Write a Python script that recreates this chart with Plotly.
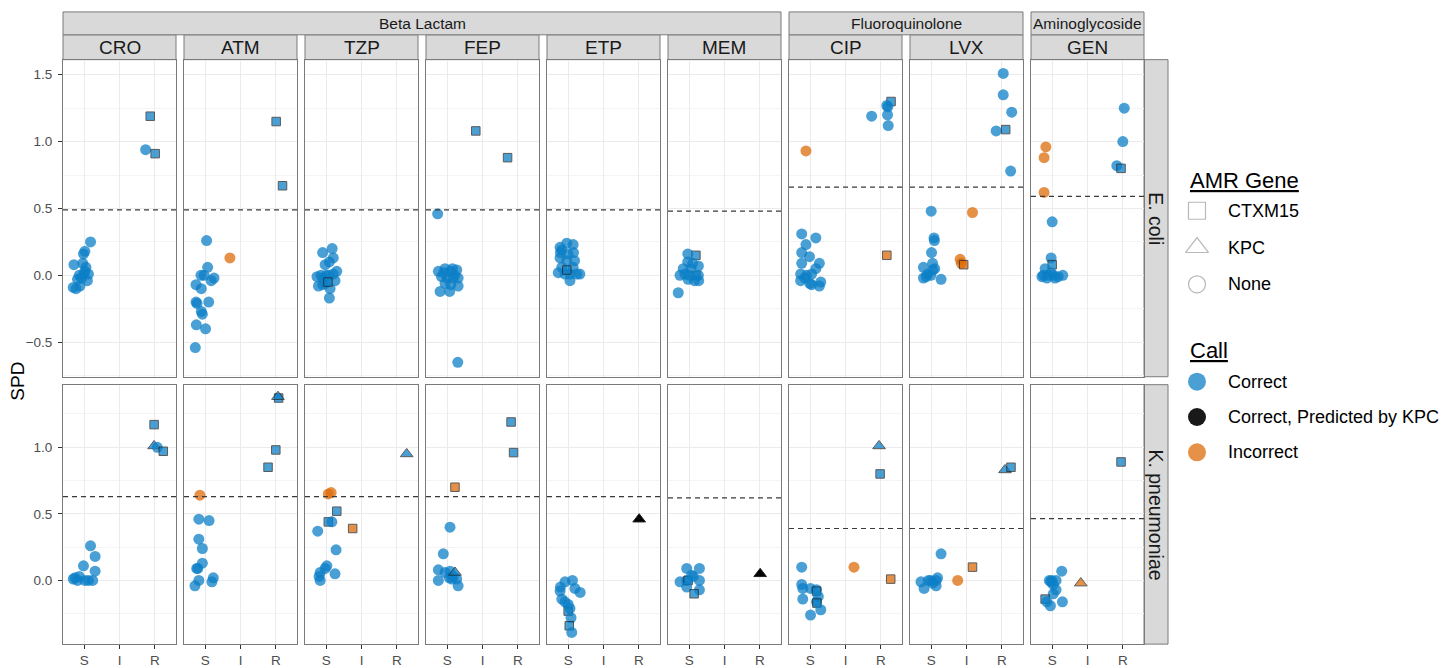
import plotly.graph_objects as go

W, H = 1443, 668
FONT = "Liberation Sans, Arial, Helvetica, sans-serif"

# ---------------- data ----------------
DRUGS = ["CRO", "ATM", "TZP", "FEP", "ETP", "MEM", "CIP", "LVX", "GEN"]
DRUG_CLASS = ["Beta Lactam"] * 6 + ["Fluoroquinolone"] * 2 + ["Aminoglycoside"]
SPECIES = ["E. coli", "K. pneumoniae"]
SIR_LEVELS = ["S", "I", "R"]
Y_TICKS_ECOLI = [-0.5, 0.0, 0.5, 1.0, 1.5]
Y_TICKS_KPN = [0.0, 0.5, 1.0]
THRESH_ECOLI = [0.49, 0.49, 0.49, 0.49, 0.49, 0.48, 0.66, 0.66, 0.59]
THRESH_KPN = [0.63, 0.63, 0.63, 0.63, 0.63, 0.62, 0.39, 0.39, 0.465]
GENES = {"C": "CTXM15", "K": "KPC", "N": "None"}
CALLS = {"ok": "Correct", "kp": "Correct, Predicted by KPC", "no": "Incorrect"}
LEGEND_GENES = ["CTXM15", "KPC", "None"]
LEGEND_CALLS = ["Correct", "Correct, Predicted by KPC", "Incorrect"]

# (SIR phenotype, jitter, SPD, gene, call)
ECOLI_CRO = [("R", -0.13, 1.19, "C", "ok"), ("R", -0.26, 0.94, "N", "ok"), ("R", 0.01, 0.91, "C", "ok"),
             ("S", 0.18, 0.25, "N", "ok"), ("S", 0.02, 0.18, "N", "ok"), ("S", -0.02, 0.16, "N", "ok"),
             ("S", -0.04, 0.09, "N", "ok"), ("S", -0.29, 0.08, "N", "ok"), ("S", 0.05, 0.06, "N", "ok"),
             ("S", -0.14, 0.00, "N", "ok"), ("S", -0.01, 0.01, "N", "ok"), ("S", 0.12, 0.01, "N", "ok"),
             ("S", -0.19, -0.03, "N", "ok"), ("S", -0.23, -0.10, "N", "ok"), ("S", -0.12, -0.08, "N", "ok"),
             ("S", 0.09, -0.04, "N", "ok"), ("S", 0.02, 0.03, "N", "ok"), ("S", -0.07, -0.02, "N", "ok"),
             ("S", -0.31, -0.09, "N", "ok")]
ECOLI_ATM = [("R", 0.01, 1.15, "C", "ok"), ("R", 0.19, 0.67, "C", "ok"), ("I", -0.30, 0.13, "N", "no"),
             ("S", 0.04, 0.26, "N", "ok"), ("S", 0.07, 0.06, "N", "ok"), ("S", -0.12, 0.00, "N", "ok"),
             ("S", -0.03, 0.00, "N", "ok"), ("S", 0.25, -0.02, "N", "ok"), ("S", 0.17, -0.04, "N", "ok"),
             ("S", -0.26, -0.07, "N", "ok"), ("S", -0.11, -0.10, "N", "ok"), ("S", -0.26, -0.20, "N", "ok"),
             ("S", -0.23, -0.21, "N", "ok"), ("S", 0.10, -0.20, "N", "ok"), ("S", -0.11, -0.27, "N", "ok"),
             ("S", -0.08, -0.29, "N", "ok"), ("S", -0.25, -0.37, "N", "ok"), ("S", 0.01, -0.40, "N", "ok"),
             ("S", -0.28, -0.54, "N", "ok")]
ECOLI_TZP = [("S", 0.17, 0.20, "N", "ok"), ("S", -0.10, 0.17, "N", "ok"), ("S", 0.20, 0.13, "N", "ok"),
             ("S", 0.09, 0.10, "N", "ok"), ("S", -0.03, 0.08, "N", "ok"), ("S", 0.30, 0.03, "N", "ok"),
             ("S", -0.15, 0.00, "N", "ok"), ("S", 0.07, 0.00, "N", "ok"), ("S", 0.20, 0.01, "N", "ok"),
             ("S", -0.22, -0.08, "N", "ok"), ("S", -0.03, -0.06, "N", "ok"), ("S", 0.25, -0.04, "N", "ok"),
             ("S", 0.11, -0.10, "N", "ok"), ("S", 0.09, -0.17, "N", "ok"), ("S", -0.08, -0.02, "N", "ok"),
             ("S", -0.26, -0.01, "N", "ok"), ("S", 0.00, 0.00, "N", "ok"), ("S", -0.10, -0.07, "N", "ok"),
             ("S", 0.05, -0.05, "C", "ok")]
ECOLI_FEP = [("I", -0.19, 1.08, "C", "ok"), ("R", -0.29, 0.88, "C", "ok"), ("S", -0.27, 0.46, "N", "ok"),
             ("S", 0.30, -0.65, "N", "ok"), ("S", -0.25, 0.03, "N", "ok"), ("S", -0.06, 0.05, "N", "ok"),
             ("S", 0.08, 0.03, "N", "ok"), ("S", 0.27, 0.04, "N", "ok"), ("S", -0.16, -0.01, "N", "ok"),
             ("S", 0.00, -0.02, "N", "ok"), ("S", 0.17, -0.02, "N", "ok"), ("S", 0.31, -0.02, "N", "ok"),
             ("S", -0.06, -0.06, "N", "ok"), ("S", 0.10, -0.07, "N", "ok"), ("S", 0.31, -0.08, "N", "ok"),
             ("S", -0.20, -0.12, "N", "ok"), ("S", 0.07, -0.12, "N", "ok"), ("S", 0.21, 0.00, "N", "ok"),
             ("S", 0.15, 0.05, "N", "ok"), ("S", -0.10, 0.02, "N", "ok")]
ECOLI_ETP = [("S", -0.23, 0.21, "N", "ok"), ("S", 0.14, 0.23, "N", "ok"), ("S", -0.04, 0.24, "N", "ok"),
             ("S", -0.18, 0.19, "N", "ok"), ("S", -0.23, 0.13, "N", "ok"), ("S", -0.04, 0.11, "N", "ok"),
             ("S", 0.18, 0.11, "N", "ok"), ("S", -0.18, 0.06, "N", "ok"), ("S", 0.14, 0.06, "N", "ok"),
             ("S", -0.28, 0.02, "N", "ok"), ("S", -0.09, 0.01, "N", "ok"), ("S", 0.05, 0.01, "N", "ok"),
             ("S", 0.24, 0.01, "N", "ok"), ("S", 0.33, 0.01, "N", "ok"), ("S", 0.05, -0.04, "N", "ok"),
             ("S", 0.00, 0.16, "N", "ok"), ("S", -0.22, 0.17, "N", "ok"), ("S", 0.15, 0.17, "N", "ok"),
             ("S", -0.04, 0.04, "C", "ok")]
ECOLI_MEM = [("S", 0.19, 0.15, "C", "ok"), ("S", 0.19, 0.00, "C", "ok"), ("S", -0.04, 0.16, "N", "ok"),
             ("S", -0.04, 0.10, "N", "ok"), ("S", 0.10, 0.09, "N", "ok"), ("S", -0.17, 0.05, "N", "ok"),
             ("S", 0.05, 0.05, "N", "ok"), ("S", 0.26, 0.07, "N", "ok"), ("S", -0.26, 0.00, "N", "ok"),
             ("S", -0.12, 0.01, "N", "ok"), ("S", 0.00, 0.00, "N", "ok"), ("S", 0.26, 0.00, "N", "ok"),
             ("S", -0.03, -0.03, "N", "ok"), ("S", 0.15, -0.04, "N", "ok"), ("S", 0.27, -0.04, "N", "ok"),
             ("S", -0.31, -0.13, "N", "ok")]
ECOLI_CIP = [("R", 0.29, 1.30, "C", "ok"), ("R", 0.17, 1.27, "N", "ok"), ("R", 0.20, 1.26, "N", "ok"),
             ("R", -0.26, 1.19, "N", "ok"), ("R", 0.19, 1.20, "N", "ok"), ("R", 0.21, 1.12, "N", "ok"),
             ("S", -0.12, 0.93, "N", "no"), ("R", 0.17, 0.15, "C", "no"),
             ("S", -0.24, 0.31, "N", "ok"), ("S", 0.16, 0.28, "N", "ok"), ("S", -0.12, 0.23, "N", "ok"),
             ("S", -0.24, 0.17, "N", "ok"), ("S", -0.02, 0.14, "N", "ok"), ("S", -0.24, 0.09, "N", "ok"),
             ("S", 0.26, 0.09, "N", "ok"), ("S", 0.16, 0.05, "N", "ok"), ("S", -0.27, 0.01, "N", "ok"),
             ("S", -0.10, 0.00, "N", "ok"), ("S", 0.04, 0.01, "N", "ok"), ("S", -0.27, -0.04, "N", "ok"),
             ("S", -0.01, -0.06, "N", "ok"), ("S", 0.30, -0.05, "N", "ok"), ("S", 0.26, -0.08, "N", "ok"),
             ("S", 0.04, -0.07, "N", "ok"), ("S", -0.15, -0.02, "N", "ok")]
ECOLI_LVX = [("R", 0.04, 1.51, "N", "ok"), ("R", 0.04, 1.35, "N", "ok"), ("R", 0.28, 1.22, "N", "ok"),
             ("R", -0.16, 1.08, "N", "ok"), ("R", 0.11, 1.09, "C", "ok"), ("R", 0.25, 0.78, "N", "ok"),
             ("I", 0.17, 0.47, "N", "no"), ("I", -0.18, 0.12, "N", "no"), ("I", -0.15, 0.09, "N", "no"),
             ("I", -0.08, 0.08, "C", "no"),
             ("S", 0.00, 0.48, "N", "ok"), ("S", 0.08, 0.28, "N", "ok"), ("S", 0.09, 0.26, "N", "ok"),
             ("S", 0.01, 0.17, "N", "ok"), ("S", 0.04, 0.09, "N", "ok"), ("S", -0.22, 0.06, "N", "ok"),
             ("S", 0.05, 0.04, "N", "ok"), ("S", -0.10, 0.01, "N", "ok"), ("S", -0.22, -0.02, "N", "ok"),
             ("S", -0.01, 0.00, "N", "ok"), ("S", 0.28, -0.03, "N", "ok"), ("S", -0.14, -0.01, "N", "ok"),
             ("S", 0.10, 0.05, "N", "ok")]
ECOLI_GEN = [("R", 0.04, 1.25, "N", "ok"), ("R", 0.00, 1.00, "N", "ok"), ("R", -0.17, 0.82, "N", "ok"),
             ("R", -0.05, 0.80, "C", "ok"),
             ("S", -0.18, 0.96, "N", "no"), ("S", -0.23, 0.88, "N", "no"), ("S", -0.23, 0.62, "N", "no"),
             ("S", 0.00, 0.40, "N", "ok"), ("S", -0.03, 0.13, "N", "ok"), ("S", 0.00, 0.08, "C", "ok"),
             ("S", -0.20, 0.05, "N", "ok"), ("S", -0.25, 0.00, "N", "ok"), ("S", -0.11, 0.00, "N", "ok"),
             ("S", 0.03, 0.00, "N", "ok"), ("S", 0.17, -0.01, "N", "ok"), ("S", 0.30, 0.00, "N", "ok"),
             ("S", -0.15, -0.02, "N", "ok"), ("S", 0.08, -0.02, "N", "ok"), ("S", -0.29, -0.01, "N", "ok"),
             ("S", -0.03, 0.02, "N", "ok")]

KPN_CRO = [("R", -0.02, 1.17, "C", "ok"), ("R", -0.02, 1.01, "K", "ok"), ("R", 0.07, 1.00, "N", "ok"),
           ("R", 0.24, 0.97, "C", "ok"),
           ("S", 0.18, 0.26, "N", "ok"), ("S", 0.31, 0.18, "N", "ok"), ("S", -0.02, 0.11, "N", "ok"),
           ("S", 0.31, 0.07, "N", "ok"), ("S", -0.26, 0.02, "N", "ok"), ("S", -0.14, 0.03, "N", "ok"),
           ("S", -0.19, 0.00, "N", "ok"), ("S", 0.02, 0.00, "N", "ok"), ("S", 0.12, 0.00, "N", "ok"),
           ("S", 0.24, 0.00, "N", "ok"), ("S", -0.31, 0.01, "N", "ok")]
KPN_ATM = [("R", 0.08, 1.37, "C", "ok"), ("R", 0.06, 1.38, "K", "ok"), ("R", 0.00, 0.98, "C", "ok"),
           ("R", -0.22, 0.85, "C", "ok"), ("S", -0.15, 0.64, "N", "no"),
           ("S", -0.18, 0.46, "N", "ok"), ("S", 0.11, 0.45, "N", "ok"), ("S", -0.18, 0.31, "N", "ok"),
           ("S", -0.08, 0.24, "N", "ok"), ("S", -0.08, 0.13, "N", "ok"), ("S", -0.21, 0.09, "N", "ok"),
           ("S", -0.24, 0.09, "N", "ok"), ("S", -0.18, 0.00, "N", "ok"), ("S", 0.23, 0.02, "N", "ok"),
           ("S", 0.19, -0.01, "N", "ok"), ("S", -0.29, -0.04, "N", "ok")]
KPN_TZP = [("R", 0.28, 0.95, "K", "ok"), ("S", 0.06, 0.65, "N", "no"), ("S", 0.14, 0.66, "N", "no"),
           ("I", -0.25, 0.39, "C", "no"), ("S", 0.30, 0.52, "C", "ok"), ("S", 0.06, 0.44, "C", "ok"),
           ("S", 0.16, 0.44, "N", "ok"),
           ("S", -0.24, 0.37, "N", "ok"), ("S", 0.28, 0.23, "N", "ok"), ("S", 0.02, 0.11, "N", "ok"),
           ("S", -0.03, 0.09, "N", "ok"), ("S", -0.17, 0.06, "N", "ok"), ("S", -0.20, 0.03, "N", "ok"),
           ("S", -0.17, 0.00, "N", "ok"), ("S", 0.25, 0.05, "N", "ok")]
KPN_FEP = [("R", -0.19, 1.19, "C", "ok"), ("R", -0.12, 0.96, "C", "ok"), ("S", 0.22, 0.70, "C", "no"),
           ("S", 0.08, 0.40, "N", "ok"), ("S", -0.11, 0.20, "N", "ok"), ("S", -0.25, 0.08, "N", "ok"),
           ("S", -0.06, 0.06, "N", "ok"), ("S", 0.08, 0.07, "N", "ok"), ("S", -0.25, 0.00, "N", "ok"),
           ("S", 0.13, 0.01, "N", "ok"), ("S", 0.27, 0.01, "N", "ok"), ("S", 0.06, 0.02, "N", "ok"),
           ("S", 0.31, -0.04, "N", "ok"), ("S", 0.17, 0.03, "N", "ok"), ("S", 0.22, 0.06, "K", "ok")]
KPN_ETP = [("R", 0.01, 0.46, "K", "kp"),
           ("S", -0.09, -0.01, "N", "ok"), ("S", 0.12, 0.00, "N", "ok"), ("S", -0.23, -0.08, "N", "ok"),
           ("S", 0.19, -0.06, "N", "ok"), ("S", 0.34, -0.09, "N", "ok"), ("S", -0.18, -0.14, "N", "ok"),
           ("S", -0.09, -0.16, "N", "ok"), ("S", 0.00, -0.23, "C", "ok"), ("S", 0.08, -0.28, "N", "ok"),
           ("S", 0.03, -0.34, "C", "ok"), ("S", 0.10, -0.39, "N", "ok"), ("S", 0.00, -0.18, "N", "ok"),
           ("S", 0.05, -0.21, "N", "ok"), ("S", -0.22, -0.05, "N", "ok")]
KPN_MEM = [("R", 0.01, 0.05, "K", "kp"),
           ("S", -0.07, 0.09, "N", "ok"), ("S", 0.29, 0.09, "N", "ok"), ("S", -0.26, -0.01, "N", "ok"),
           ("S", -0.07, 0.00, "N", "ok"), ("S", -0.03, 0.00, "C", "ok"), ("S", 0.12, 0.03, "N", "ok"),
           ("S", 0.29, 0.00, "N", "ok"), ("S", -0.07, -0.05, "N", "ok"), ("S", 0.29, -0.07, "N", "ok"),
           ("S", 0.14, -0.10, "C", "ok"), ("S", 0.07, 0.04, "N", "ok")]
KPN_CIP = [("R", -0.05, 1.01, "K", "ok"), ("R", -0.02, 0.80, "C", "ok"), ("I", 0.24, 0.10, "N", "no"),
           ("R", 0.28, 0.01, "C", "no"),
           ("S", -0.24, 0.10, "N", "ok"), ("S", -0.24, -0.03, "N", "ok"), ("S", -0.21, -0.06, "N", "ok"),
           ("S", 0.01, -0.06, "N", "ok"), ("S", 0.18, -0.07, "N", "ok"), ("S", 0.18, -0.08, "C", "ok"),
           ("S", 0.23, -0.12, "N", "ok"), ("S", -0.21, -0.14, "N", "ok"), ("S", 0.18, -0.16, "N", "ok"),
           ("S", 0.19, -0.17, "C", "ok"), ("S", 0.30, -0.22, "N", "ok"), ("S", 0.01, -0.26, "N", "ok")]
KPN_LVX = [("R", 0.09, 0.83, "K", "ok"), ("R", 0.26, 0.85, "C", "ok"), ("I", -0.25, 0.00, "N", "no"),
           ("I", 0.17, 0.10, "C", "no"),
           ("S", 0.28, 0.20, "N", "ok"), ("S", -0.29, -0.01, "N", "ok"), ("S", -0.20, -0.06, "N", "ok"),
           ("S", -0.08, 0.00, "N", "ok"), ("S", -0.01, 0.00, "N", "ok"), ("S", 0.14, 0.00, "N", "ok"),
           ("S", 0.18, 0.02, "N", "ok"), ("S", 0.14, -0.04, "N", "ok"), ("S", 0.04, -0.02, "N", "ok")]
KPN_GEN = [("R", -0.05, 0.89, "C", "ok"), ("I", -0.19, -0.02, "K", "no"),
           ("S", 0.27, 0.07, "N", "ok"), ("S", -0.08, 0.00, "N", "ok"), ("S", -0.01, 0.00, "N", "ok"),
           ("S", 0.11, 0.00, "N", "ok"), ("S", 0.03, -0.03, "N", "ok"), ("S", 0.11, -0.07, "N", "ok"),
           ("S", 0.03, -0.10, "N", "ok"), ("S", -0.20, -0.14, "C", "ok"), ("S", -0.15, -0.16, "N", "ok"),
           ("S", -0.05, -0.19, "N", "ok"), ("S", 0.29, -0.16, "N", "ok"), ("S", -0.04, -0.01, "N", "ok")]

PANELS = [
    [ECOLI_CRO, ECOLI_ATM, ECOLI_TZP, ECOLI_FEP, ECOLI_ETP, ECOLI_MEM, ECOLI_CIP, ECOLI_LVX, ECOLI_GEN],
    [KPN_CRO, KPN_ATM, KPN_TZP, KPN_FEP, KPN_ETP, KPN_MEM, KPN_CIP, KPN_LVX, KPN_GEN],
]
THRESHOLDS = [THRESH_ECOLI, THRESH_KPN]
ROW_TICKS = [Y_TICKS_ECOLI, Y_TICKS_KPN]

# ---------------- styles ----------------
CALL_COLOR = {"Correct": "#0B7FC7", "Correct, Predicted by KPC": "#000000", "Incorrect": "#DD6A08"}
CALL_ALPHA = {"Correct": 0.74, "Correct, Predicted by KPC": 1.0, "Incorrect": 0.74}
GENE_SYMBOL = {"CTXM15": "square", "KPC": "triangle-up", "None": "circle"}
GENE_SIZE = {"CTXM15": 8.5, "KPC": 11, "None": 11}
GENE_LINE = {"CTXM15": 1.0, "KPC": 1.0, "None": 0}

# pixel layout
COL_X0, COL_STEP, COL_W = 63, 121, 113
ROW_Y = [(60, 379), (387, 648)]
ROW_RANGE = [(-0.758, 1.613), (-0.478, 1.470)]
X_RANGE = (0.4, 3.6)
BORDER = "#7a7a7a"
STRIP_FILL = "#D9D9D9"

def px_x(p):
    return p / W

def px_y(p):
    return 1 - p / H

def fmt(v):
    return f"{v:.1f}".replace("-", "\u2212")

fig = go.Figure()
layout = dict(
    width=W, height=H, margin=dict(l=0, r=0, t=0, b=0),
    paper_bgcolor="white", plot_bgcolor="white",
    font=dict(family=FONT, color="#000000"),
    showlegend=False,
)
shapes, annotations = [], []
sir_pos = {s: i + 1 for i, s in enumerate(SIR_LEVELS)}

for r, species in enumerate(SPECIES):
    y0p, y1p = ROW_Y[r]
    ticks = ROW_TICKS[r]
    step = ticks[1] - ticks[0]
    minors = [t - step / 2 for t in ticks] + [ticks[-1] + step / 2]
    minors = [m for m in minors if ROW_RANGE[r][0] < m < ROW_RANGE[r][1]]
    for c, drug in enumerate(DRUGS):
        n = r * len(DRUGS) + c + 1
        sx = "" if n == 1 else str(n)
        x0p = COL_X0 + COL_STEP * c
        x1p = x0p + COL_W
        layout["xaxis" + sx] = dict(
            domain=[px_x(x0p), px_x(x1p)], range=list(X_RANGE), anchor="y" + sx,
            tickmode="array", tickvals=[1, 2, 3], ticktext=SIR_LEVELS,
            showticklabels=(r == 1), ticks="outside" if r == 1 else "", ticklen=4,
            tickcolor="#333333", tickfont=dict(size=13.5, color="#4D4D4D", family=FONT),
            showgrid=True, gridcolor="#EBEBEB", gridwidth=1, zeroline=False,
            showline=True, mirror=True, linecolor=BORDER, linewidth=1, fixedrange=True,
        )
        layout["yaxis" + sx] = dict(
            domain=[px_y(y1p), px_y(y0p)], range=list(ROW_RANGE[r]), anchor="x" + sx,
            tickmode="array", tickvals=ticks, ticktext=[fmt(t) for t in ticks],
            showticklabels=(c == 0), ticks="outside" if c == 0 else "", ticklen=4,
            tickcolor="#333333", tickfont=dict(size=13.5, color="#4D4D4D", family=FONT),
            ticklabelstandoff=3,
            showgrid=True, gridcolor="#EBEBEB", gridwidth=1, zeroline=False,
            minor=dict(tickvals=minors, showgrid=True, gridcolor="#F4F4F4", gridwidth=0.6, ticks=""),
            showline=True, mirror=True, linecolor=BORDER, linewidth=1, fixedrange=True,
        )
        pts = PANELS[r][c]
        genes = [GENES[p[3]] for p in pts]
        calls = [CALLS[p[4]] for p in pts]
        fig.add_trace(go.Scatter(
            x=[sir_pos[p[0]] + p[1] for p in pts],
            y=[p[2] for p in pts],
            xaxis="x" + sx, yaxis="y" + sx, mode="markers", hoverinfo="skip",
            marker=dict(
                symbol=[GENE_SYMBOL[g] for g in genes],
                size=[GENE_SIZE[g] for g in genes],
                color=[CALL_COLOR[k] for k in calls],
                opacity=[CALL_ALPHA[k] for k in calls],
                line=dict(color="#222222", width=[GENE_LINE[g] for g in genes]),
            ),
        ))
        shapes.append(dict(
            type="line", xref=("x" + sx + " domain"), yref="y" + sx, x0=0, x1=1,
            y0=THRESHOLDS[r][c], y1=THRESHOLDS[r][c],
            line=dict(color="#3a3a3a", width=1.2, dash="5px,4px"),
        ))

# ---------------- strips ----------------
STRIP1 = (12, 35)
STRIP2 = (35, 60)
for c, drug in enumerate(DRUGS):
    x0p = COL_X0 + COL_STEP * c
    x1p = x0p + COL_W
    shapes.append(dict(type="rect", xref="paper", yref="paper", x0=px_x(x0p), x1=px_x(x1p),
                       y0=px_y(STRIP2[1]), y1=px_y(STRIP2[0]), fillcolor=STRIP_FILL,
                       line=dict(color=BORDER, width=1), layer="below"))
    annotations.append(dict(text=drug, xref="paper", yref="paper", x=px_x((x0p + x1p) / 2),
                            y=px_y((STRIP2[0] + STRIP2[1]) / 2), showarrow=False,
                            xanchor="center", yanchor="middle",
                            font=dict(size=19, color="#1A1A1A", family=FONT)))
groups = []
for c, cl in enumerate(DRUG_CLASS):
    if groups and groups[-1][0] == cl:
        groups[-1][2] = c
    else:
        groups.append([cl, c, c])
for cl, c0, c1 in groups:
    x0p = COL_X0 + COL_STEP * c0
    x1p = COL_X0 + COL_STEP * c1 + COL_W
    shapes.append(dict(type="rect", xref="paper", yref="paper", x0=px_x(x0p), x1=px_x(x1p),
                       y0=px_y(STRIP1[1]), y1=px_y(STRIP1[0]), fillcolor=STRIP_FILL,
                       line=dict(color=BORDER, width=1), layer="below"))
    annotations.append(dict(text=cl, xref="paper", yref="paper", x=px_x((x0p + x1p) / 2),
                            y=px_y((STRIP1[0] + STRIP1[1]) / 2), showarrow=False,
                            xanchor="center", yanchor="middle",
                            font=dict(size=15.5, color="#1A1A1A", family=FONT)))
SX0 = COL_X0 + COL_STEP * (len(DRUGS) - 1) + COL_W
SX1 = SX0 + 24
for r, species in enumerate(SPECIES):
    y0p, y1p = ROW_Y[r]
    shapes.append(dict(type="rect", xref="paper", yref="paper", x0=px_x(SX0), x1=px_x(SX1),
                       y0=px_y(y1p), y1=px_y(y0p), fillcolor=STRIP_FILL,
                       line=dict(color=BORDER, width=1), layer="below"))
    annotations.append(dict(text=species, xref="paper", yref="paper", x=px_x((SX0 + SX1) / 2),
                            y=px_y((y0p + y1p) / 2), showarrow=False, textangle=90,
                            xanchor="center", yanchor="middle",
                            font=dict(size=19.5, color="#1A1A1A", family=FONT)))

annotations.append(dict(text="SPD", xref="paper", yref="paper", x=px_x(18), y=px_y(384),
                        showarrow=False, textangle=-90, xanchor="center", yanchor="middle",
                        font=dict(size=19, color="#000000", family=FONT)))

# ---------------- legend (drawn on its own hidden axis, pixel units) ----------------
LX0, LX1, LY0, LY1 = 1170, 1443, 150, 480
layout["xaxis19"] = dict(domain=[px_x(LX0), px_x(LX1)], range=[LX0, LX1], visible=False,
                         anchor="y19", fixedrange=True)
layout["yaxis19"] = dict(domain=[px_y(LY1), px_y(LY0)], range=[LY1, LY0], visible=False,
                         anchor="x19", fixedrange=True)
KEY_X, LABEL_X, TITLE_X = 1197, 1226, 1188
gene_y = [212 + 37 * i for i in range(len(LEGEND_GENES))]
call_y = [384 + 35.5 * i for i in range(len(LEGEND_CALLS))]
fig.add_trace(go.Scatter(
    x=[KEY_X] * len(LEGEND_GENES), y=gene_y, xaxis="x19", yaxis="y19", mode="markers",
    hoverinfo="skip",
    marker=dict(symbol=[GENE_SYMBOL[g] + "-open" for g in LEGEND_GENES], size=[17, 20, 17],
                color="#9a9a9a", line=dict(width=1.2)),
))
fig.add_trace(go.Scatter(
    x=[KEY_X] * len(LEGEND_CALLS), y=call_y, xaxis="x19", yaxis="y19", mode="markers",
    hoverinfo="skip",
    marker=dict(symbol="circle", size=18, color=[CALL_COLOR[k] for k in LEGEND_CALLS],
                opacity=[CALL_ALPHA[k] if CALL_ALPHA[k] < 1 else 0.9 for k in LEGEND_CALLS],
                line=dict(width=0)),
))
for lab, yy in zip(LEGEND_GENES, gene_y):
    annotations.append(dict(text=lab, xref="x19", yref="y19", x=LABEL_X, y=yy, showarrow=False,
                            xanchor="left", yanchor="middle", font=dict(size=18, family=FONT)))
for lab, yy in zip(LEGEND_CALLS, call_y):
    annotations.append(dict(text=lab, xref="x19", yref="y19", x=LABEL_X, y=yy, showarrow=False,
                            xanchor="left", yanchor="middle", font=dict(size=18, family=FONT)))
annotations.append(dict(text="<u>AMR Gene</u>", xref="x19", yref="y19", x=TITLE_X, y=182,
                        showarrow=False, xanchor="left", yanchor="middle",
                        font=dict(size=22, family=FONT)))
annotations.append(dict(text="<u>Call</u>", xref="x19", yref="y19", x=TITLE_X, y=353,
                        showarrow=False, xanchor="left", yanchor="middle",
                        font=dict(size=22, family=FONT)))

layout["shapes"] = shapes
layout["annotations"] = annotations
fig.update_layout(**layout)

fig.write_html("out.html", include_plotlyjs=True, config={"displayModeBar": False},
               post_script="document.body.style.margin='0';document.body.style.overflow='hidden';")
